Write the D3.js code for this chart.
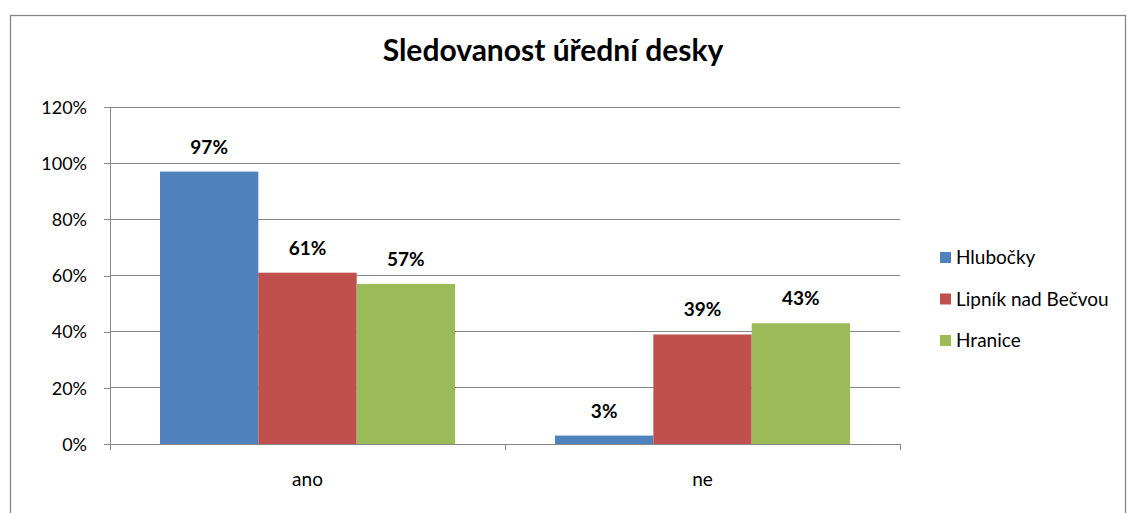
<!DOCTYPE html>
<html>
<head>
    <meta charset="UTF-8">
    <title>Sledovanost úřední desky</title>
    <script src="https://d3js.org/d3.v7.min.js"></script>
    <style>
        body { margin: 0; background: #fff; }
        text { font-family: Lato, "Open Sans", sans-serif; fill: #000; }
        .axis path, .axis line { stroke: #868686; shape-rendering: crispEdges; }
        .grid line { stroke: #868686; shape-rendering: crispEdges; }
    </style>
</head>
<body>
    <div id="chart"></div>
    <script>
        const categories = ["ano", "ne"];
        const seriesNames = ["Hlubočky", "Lipník nad Bečvou", "Hranice"];
        const hlubocky = [0.97, 0.03];
        const lipnik = [0.61, 0.39];
        const hranice = [0.57, 0.43];
        const yTicks = [0, 0.2, 0.4, 0.6, 0.8, 1.0, 1.2];
        const colors = ["#4F81BD", "#C0504D", "#9BBB59"];

        const series = [hlubocky, lipnik, hranice];

        const width = 1127;
        const height = 513;

        const svg = d3.select('#chart')
            .append('svg')
            .attr('width', width)
            .attr('height', height);

        // outer chart border (bottom edge falls outside the picture)
        svg.append('rect')
            .attr('x', 10.5)
            .attr('y', 15.5)
            .attr('width', 1115)
            .attr('height', 520)
            .attr('fill', 'none')
            .attr('stroke', '#868686')
            .attr('stroke-width', 1.3);

        const xScale = d3.scaleBand()
            .domain(categories)
            .range([110, 900])
            .paddingInner(100 / 395)
            .paddingOuter(50 / 395);

        const xSub = d3.scaleBand()
            .domain(seriesNames)
            .range([0, xScale.bandwidth()]);

        const yScale = d3.scaleLinear()
            .domain([0, 1.2])
            .range([444, 107]);

        // gridlines
        svg.append('g')
            .attr('class', 'grid')
            .selectAll('line')
            .data(yTicks.slice(1))
            .join('line')
            .attr('x1', 110)
            .attr('x2', 900)
            .attr('y1', d => yScale(d))
            .attr('y2', d => yScale(d));

        // bars
        series.forEach((values, i) => {
            svg.append('g')
                .selectAll('rect')
                .data(values)
                .join('rect')
                .attr('x', (d, j) => xScale(categories[j]) + xSub(seriesNames[i]))
                .attr('y', d => yScale(d))
                .attr('width', xSub.bandwidth())
                .attr('height', d => yScale(0) - yScale(d))
                .attr('fill', colors[i]);

            svg.append('g')
                .selectAll('text')
                .data(values)
                .join('text')
                .attr('x', (d, j) => xScale(categories[j]) + xSub(seriesNames[i]) + xSub.bandwidth() / 2)
                .attr('y', d => yScale(d) - 18)
                .attr('text-anchor', 'middle')
                .style('font-size', '19px')
                .style('font-weight', 'bold')
                .text(d => Math.round(d * 100) + '%');
        });

        // y axis
        const yAxis = d3.axisLeft(yScale)
            .tickValues(yTicks)
            .tickSize(6)
            .tickPadding(17)
            .tickFormat(d => Math.round(d * 100) + '%');

        const gy = svg.append('g')
            .attr('class', 'axis')
            .attr('transform', 'translate(110, 0)')
            .call(yAxis);
        gy.select('.domain').attr('d', 'M0,' + yScale(1.2) + 'V' + yScale(0));
        gy.selectAll('text').style('font-size', '18px').attr('dy', '0.35em');

        // x axis
        const xAxis = d3.axisBottom(xScale)
            .tickSize(0)
            .tickPadding(29);

        const gx = svg.append('g')
            .attr('class', 'axis')
            .attr('transform', 'translate(0, 444)')
            .call(xAxis);
        gx.select('.domain').attr('d', 'M110,0H900');
        gx.selectAll('text').style('font-size', '19px');

        // category separator ticks
        const step = xScale.step();
        gx.append('g')
            .selectAll('line')
            .data(d3.range(categories.length + 1))
            .join('line')
            .attr('x1', d => 110 + d * step)
            .attr('x2', d => 110 + d * step)
            .attr('y1', 0)
            .attr('y2', 6)
            .attr('stroke', '#868686')
            .style('shape-rendering', 'crispEdges');

        // title
        svg.append('text')
            .attr('x', 553)
            .attr('y', 61)
            .attr('text-anchor', 'middle')
            .style('font-size', '30px')
            .style('font-weight', 'bold')
            .text('Sledovanost úřední desky');

        // legend
        const legend = svg.append('g')
            .selectAll('g')
            .data(seriesNames)
            .join('g')
            .attr('transform', (d, i) => 'translate(940,' + (257.5 + i * 41.5) + ')');

        legend.append('rect')
            .attr('x', 0)
            .attr('y', -5.5)
            .attr('width', 11)
            .attr('height', 11)
            .attr('fill', (d, i) => colors[i]);

        legend.append('text')
            .attr('x', 16)
            .attr('y', 0)
            .attr('dy', '0.35em')
            .style('font-size', '19px')
            .text(d => d);
    </script>
</body>
</html>
